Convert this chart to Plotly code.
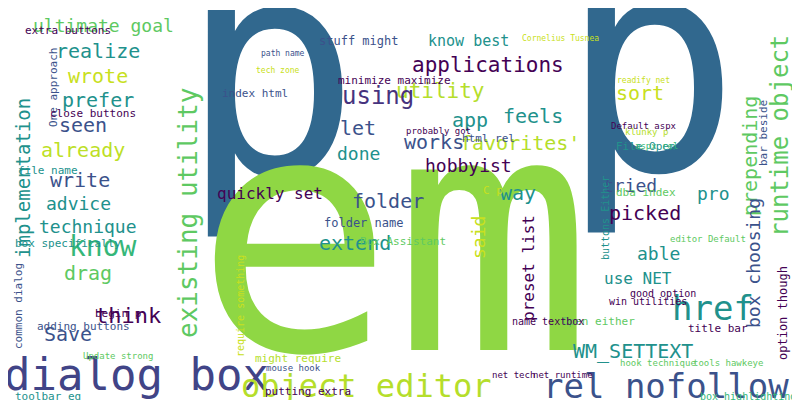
import plotly.graph_objects as go

# word cloud data: word, weight (font px), colour, vertical flag
words = ["p", "p", "em", "dialog box", "object editor", "rel nofollow", "href",
         "runtime object", "existing utility", "applications", "utility", "using",
         "app", "feels", "favorites'", "let", "know best", "stuff might", "sort",
         "prepending", "minimize maximize", "index html", "realize", "ultimate goal",
         "wrote", "prefer", "seen", "already", "implementation", "write", "advice",
         "technique", "know", "drag", "think", "Save", "works", "done", "hobbyist",
         "folder", "quickly set", "way", "tried", "picked", "pro", "box choosing",
         "extend", "said", "preset list", "able", "use NET", "WM_SETTEXT",
         "option though", "foggiest idea", "Box Assistant", "folder name",
         "html rel", "extra buttons", "One approach", "close buttons", "file name",
         "box specifically", "common dialog", "adding buttons", "toolbar eg",
         "putting extra", "might require", "require something", "mouse hook",
         "title bar", "good option", "Open either", "name textbox", "win utilities",
         "net tech", "net runtime", "hook technique", "tools hawkeye", "path name",
         "tech zone", "File Open", "Default aspx", "readify net", "Cornelius Tusnea",
         "Hawkeye Runtime", "dba index", "bar beside", "buttons Either", "C p",
         "probably got", "klunky p", "aspx rel", "editor Default", "begin p",
         "Update strong", "box highlighting"]
sizes = [300, 300, 330, 44, 32, 34, 34, 24, 26, 21, 21, 24, 20, 20, 20, 20, 15,
         12, 20, 20, 11, 11, 20, 18, 20, 20, 20, 20, 19, 20, 18, 18, 28, 20, 22,
         20, 20, 18, 18, 20, 16, 20, 18, 20, 18, 18, 20, 18, 16, 18, 16, 20, 12,
         11, 11, 12, 11, 11, 11, 11, 11, 11, 11, 11, 11, 11, 11, 10, 9, 11, 10,
         11, 10, 10, 9, 9, 9, 9, 8, 8, 11, 9, 8, 8, 8, 11, 11, 10, 11, 9, 9,
         9, 9, 11, 9, 10]
colors = ["#31688e", "#31688e", "#8fd744", "#414487", "#b5de2b", "#3b528b",
          "#21918c", "#5ec962", "#5ec962", "#440154", "#b5de2b", "#46337e",
          "#21918c", "#21918c", "#b5de2b", "#3b528b", "#21918c", "#3b528b",
          "#c8e020", "#5ec962", "#440154", "#3b528b", "#21918c", "#5ec962",
          "#c8e020", "#21918c", "#3b528b", "#bddf26", "#21918c", "#3b528b",
          "#21918c", "#21918c", "#35b779", "#5ec962", "#440154", "#3b528b",
          "#3b528b", "#21918c", "#440154", "#3b528b", "#440154", "#21918c",
          "#3b528b", "#440154", "#21918c", "#3b528b", "#21918c", "#c8e020",
          "#440154", "#21918c", "#21918c", "#21918c", "#440154", "#5ec962",
          "#5ec962", "#3b528b", "#3b528b", "#440154", "#3b528b", "#440154",
          "#21918c", "#21918c", "#3b528b", "#3b528b", "#21918c", "#440154",
          "#b5de2b", "#c8e020", "#3b528b", "#440154", "#440154", "#5ec962",
          "#440154", "#440154", "#440154", "#440154", "#5ec962", "#5ec962",
          "#3b528b", "#c8e020", "#21918c", "#440154", "#c8e020", "#c8e020",
          "#440154", "#5ec962", "#3b528b", "#21918c", "#c8e020", "#440154",
          "#b5de2b", "#35b779", "#5ec962", "#440154", "#5ec962", "#35b779"]
vertical = [0, 0, 0, 0, 0, 0, 0, 1, 1, 0, 0, 0, 0, 0, 0, 0, 0, 0, 0, 1, 0, 0,
            0, 0, 0, 0, 0, 0, 1, 0, 0, 0, 0, 0, 0, 0, 0, 0, 0, 0, 0, 0, 0, 0,
            0, 1, 0, 1, 1, 0, 0, 0, 1, 1, 0, 0, 0, 0, 1, 0, 0, 0, 1, 0, 0, 0,
            0, 1, 0, 0, 0, 0, 0, 0, 0, 0, 0, 0, 0, 0, 0, 0, 0, 0, 1, 0, 1, 1,
            0, 0, 0, 0, 0, 0, 0, 0]

# placement of each word in the 800x400 canvas
pos_x = [262, 642, 385, 128, 358, 658, 705, 772, 180, 480, 432, 370, 462, 525,
         512, 350, 460, 350, 632, 742, 386, 247, 90, 95, 90, 90, 75, 75, 15, 72,
         70, 80, 95, 80, 120, 60, 426, 350, 460, 380, 262, 510, 622, 637, 705,
         745, 347, 470, 520, 650, 630, 625, 775, 790, 395, 355, 480, 60, 45, 85,
         40, 60, 10, 75, 40, 300, 290, 232, 285, 710, 655, 590, 540, 640, 505,
         555, 650, 720, 275, 270, 638, 636, 635, 552, 788, 638, 755, 597, 485,
         430, 638, 648, 700, 110, 110, 740]
pos_y = [62, 58, 228, 366, 378, 378, 300, 128, 205, 57, 83, 88, 112, 108, 135,
         120, 33, 33, 85, 148, 72, 85, 43, 17, 68, 92, 117, 142, 170, 172, 195,
         218, 238, 265, 307, 326, 134, 145, 157, 193, 185, 185, 177, 205, 185, 255,
         235, 230, 260, 245, 270, 343, 305, 335, 233, 215, 130, 22, 80, 105, 162,
         235, 298, 318, 388, 383, 350, 298, 360, 320, 285, 313, 313, 293, 367,
         367, 355, 355, 45, 62, 138, 118, 72, 30, 55, 184, 125, 210, 182, 123,
         124, 138, 231, 305, 348, 388]

fig = go.Figure()
fig.add_trace(go.Scatter(x=[0, 800], y=[0, 400], mode="markers",
                         marker=dict(opacity=0), hoverinfo="skip"))

for w, s, c, v, x, y in zip(words, sizes, colors, vertical, pos_x, pos_y):
    fig.add_annotation(x=x, y=y, text=w, showarrow=False, textangle=-90 if v else 0,
                       font=dict(family="DejaVu Sans Mono", size=s, color=c),
                       xanchor="center", yanchor="middle")

fig.update_layout(width=800, height=400, margin=dict(l=0, r=0, t=0, b=0),
                  plot_bgcolor="white", paper_bgcolor="white", showlegend=False,
                  xaxis=dict(range=[0, 800], visible=False),
                  yaxis=dict(range=[400, 0], visible=False))
fig.write_html("out.html")
